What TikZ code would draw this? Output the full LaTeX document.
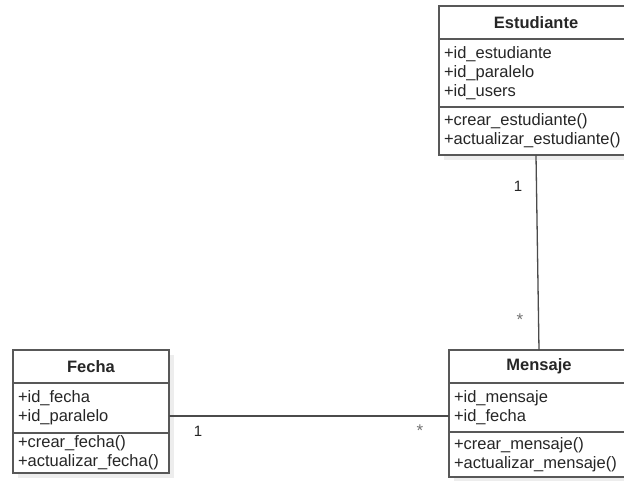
\documentclass[tikz,border=0pt]{standalone}
\usepackage{fontspec}
\setmainfont{Liberation Sans}
\usetikzlibrary{positioning,shadows}
\definecolor{umlline}{RGB}{88,88,88}
\definecolor{umltext}{RGB}{38,38,38}

\begin{document}
\begin{tikzpicture}[x=1pt,y=-1pt,font=\fontsize{16.5}{19}\selectfont,text=umltext,
  classpart/.style={draw=umlline,line width=1.6pt,fill=white,outer sep=0pt,
    inner xsep=5pt,inner ysep=0pt,align=left,
    drop shadow={shadow xshift=5pt,shadow yshift=-5pt,fill=black!7,opacity=1}},
  classhead/.style={classpart,align=center,font=\fontsize{16.5}{19}\selectfont\bfseries},
  assoc/.style={draw=umlline!85!black,line width=1.3pt},
  mult/.style={inner sep=0pt,font=\fontsize{15}{18}\selectfont},
  multstar/.style={inner sep=0pt,text=black!55,font=\fontsize{17}{18}\selectfont}]
\path[use as bounding box,clip] (0,0) rectangle (624,481);
\fill[white] (0,0) rectangle (624,481);

% Estudiante
\node[classhead,anchor=north west,text width=184pt,minimum height=33pt] (estudiante) at (439,6) {Estudiante};
\node[classpart,below=0pt of estudiante,text width=184pt,minimum height=68pt] (estudianteAttr)
  {+id\_estudiante\\+id\_paralelo\\+id\_users};
\node[classpart,below=0pt of estudianteAttr,text width=184pt,minimum height=48pt] (estudianteOps)
  {+crear\_estudiante()\\+actualizar\_estudiante()};

% Fecha
\node[classhead,anchor=north west,text width=146pt,minimum height=33pt] (fecha) at (13,350) {Fecha};
\node[classpart,below=0pt of fecha,text width=146pt,minimum height=50pt] (fechaAttr)
  {+id\_fecha\\+id\_paralelo};
\node[classpart,below=0pt of fechaAttr,text width=146pt,minimum height=40pt] (fechaOps)
  {+crear\_fecha()\\+actualizar\_fecha()};

% Mensaje
\node[classhead,anchor=north west,text width=170pt,minimum height=33pt] (mensaje) at (449,350) {Mensaje};
\node[classpart,below=0pt of mensaje,text width=170pt,minimum height=49pt] (mensajeAttr)
  {+id\_mensaje\\+id\_fecha};
\node[classpart,below=0pt of mensajeAttr,text width=170pt,minimum height=45pt] (mensajeOps)
  {+crear\_mensaje()\\+actualizar\_mensaje()};

% associations
\draw[assoc] (estudianteOps.south) -- (mensaje.north);
\draw[assoc] ([yshift=-8pt]fechaAttr.east) -- ([yshift=-8pt]fechaAttr.east -| mensajeAttr.west);

\node[mult] (estudianteMul) at (518,186) {1};
\node[multstar] (mensajeMulA) at (520,320) {*};
\node[mult] (fechaMul) at (198,431) {1};
\node[multstar] (mensajeMulB) at (420,431) {*};
\end{tikzpicture}
\end{document}
